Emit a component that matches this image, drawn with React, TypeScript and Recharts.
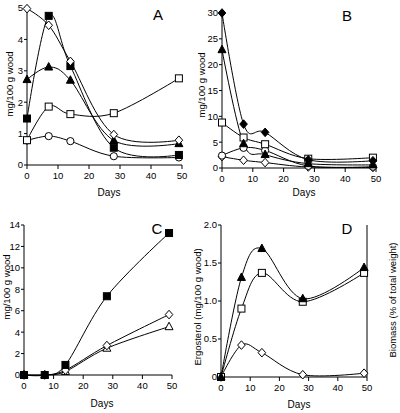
import React from "react";
import { LineChart, Line, XAxis, YAxis } from "recharts";

// sampling days (last harvest is day 49)
const days = [0, 7, 14, 28, 49];
const dayTicks = [0, 10, 20, 30, 40, 50];

// panel A
const aOpenDiamond = [4.98, 4.45, 3.3, 0.97, 0.79];
const aFilledSquare = [1.48, 4.75, 3.15, 0.55, 0.32];
const aFilledTriangle = [2.72, 3.12, 2.7, 0.78, 0.68];
const aOpenSquare = [0.79, 1.86, 1.62, 1.65, 2.76];
const aOpenCircle = [0.78, 0.92, 0.76, 0.28, 0.24];
const aTicks = [0, 1, 2, 3, 4, 5];

// panel B
const bFilledDiamond = [30, 8.5, 6.9, 1.6, 1.4];
const bFilledTriangle = [22.9, 4.7, 2.6, 0.84, 0.6];
const bOpenSquare = [8.8, 5.9, 4.6, 1.8, 2.0];
const bOpenCircle = [2.4, 3.9, 3.4, 0.4, 0.25];
const bOpenDiamond = [2.2, 1.5, 1.05, 0.2, 0.1];
const bTicks = [0, 5, 10, 15, 20, 25, 30];

// panel C
const cFilledSquare = [0, 0, 0.94, 7.35, 13.25];
const cOpenDiamond = [0, 0, 0.45, 2.75, 5.64];
const cOpenTriangle = [0, 0, 0.33, 2.5, 4.51];
const cTicks = [0, 2, 4, 6, 8, 10, 12, 14];

// panel D
const dFilledTriangle = [0, 1.31, 1.69, 1.03, 1.44];
const dOpenSquare = [0, 0.9, 1.37, 0.99, 1.37];
const dOpenDiamond = [0, 0.42, 0.32, 0.03, 0.05];
const dTicks = [0, 0.5, 1, 1.5, 2];
const dRightTicks = [0, 0.1, 0.2, 0.3, 0.4, 0.5];

type Shape = "square" | "diamond" | "circle" | "triangle";
interface SeriesDef {
  key: string;
  shape: Shape;
  filled: boolean;
  values: number[];
}

const font = "'Liberation Sans', Arial, sans-serif";
const tickStyle = { fontSize: 9.5, fill: "#000", fontFamily: font };

// Catmull-Rom style smoothing, similar to the spreadsheet "smoothed line"
class SmoothCurve {
  _context: any;
  _k = 1 / 6;
  _line = NaN;
  _point = 0;
  _x0 = NaN; _x1 = NaN; _x2 = NaN;
  _y0 = NaN; _y1 = NaN; _y2 = NaN;
  constructor(context: any) {
    this._context = context;
  }
  areaStart() { this._line = 0; }
  areaEnd() { this._line = NaN; }
  lineStart() {
    this._x0 = this._x1 = this._x2 = NaN;
    this._y0 = this._y1 = this._y2 = NaN;
    this._point = 0;
  }
  lineEnd() {
    if (this._point === 2) this._context.lineTo(this._x2, this._y2);
    else if (this._point === 3) this.seg(this._x1, this._y1);
    if (this._line || (this._line !== 0 && this._point === 1)) this._context.closePath();
    this._line = 1 - this._line;
  }
  seg(x: number, y: number) {
    this._context.bezierCurveTo(
      this._x1 + this._k * (this._x2 - this._x0),
      this._y1 + this._k * (this._y2 - this._y0),
      this._x2 + this._k * (this._x1 - x),
      this._y2 + this._k * (this._y1 - y),
      this._x2,
      this._y2
    );
  }
  point(x: number, y: number) {
    x = +x;
    y = +y;
    if (this._point === 0) {
      this._point = 1;
      if (this._line) this._context.lineTo(x, y);
      else this._context.moveTo(x, y);
    } else if (this._point === 1) {
      this._point = 2;
      this._x1 = x;
      this._y1 = y;
    } else {
      this._point = 3;
      this.seg(x, y);
    }
    this._x0 = this._x1; this._x1 = this._x2; this._x2 = x;
    this._y0 = this._y1; this._y1 = this._y2; this._y2 = y;
  }
}
const smooth = (context: any) => new SmoothCurve(context);

const Marker = ({ cx, cy, shape, filled }: { cx?: number; cy?: number; shape: Shape; filled: boolean }) => {
  if (cx == null || cy == null) return null;
  const p = { fill: filled ? "#000" : "#fff", stroke: "#000", strokeWidth: 1 };
  if (shape === "square") return <rect x={cx - 3.5} y={cy - 3.5} width={7} height={7} {...p} />;
  if (shape === "circle") return <circle cx={cx} cy={cy} r={3.6} {...p} />;
  if (shape === "diamond")
    return <polygon points={`${cx},${cy - 4.3} ${cx + 3.8},${cy} ${cx},${cy + 4.3} ${cx - 3.8},${cy}`} {...p} />;
  return <polygon points={`${cx},${cy - 4.5} ${cx + 4},${cy + 3} ${cx - 4},${cy + 3}`} {...p} />;
};

const toRows = (series: SeriesDef[]) =>
  days.map((day, i) => {
    const row: Record<string, number> = { day };
    series.forEach((s) => (row[s.key] = s.values[i]));
    return row;
  });

const VText = ({ x, y, children }: { x: number; y: number; children: string }) => (
  <text
    x={x}
    y={y}
    transform={`rotate(-90, ${x}, ${y})`}
    textAnchor="middle"
    dominantBaseline="central"
    fontSize={9.5}
    fontFamily={font}
    fill="#000"
  >
    {children}
  </text>
);

const HText = ({ x, y, size = 10, children }: { x: number; y: number; size?: number; children: string }) => (
  <text x={x} y={y} textAnchor="middle" dominantBaseline="central" fontSize={size} fontFamily={font} fill="#000">
    {children}
  </text>
);

interface PanelProps {
  left: number;
  top: number;
  width: number;
  height: number;
  margin: { top: number; right: number; bottom: number; left: number };
  yWidth: number;
  xHeight: number;
  yMax: number;
  yTicks: number[];
  yFormat?: (v: number) => string;
  series: SeriesDef[];
  children?: React.ReactNode;
  right?: React.ReactNode;
}

const Panel = ({ left, top, width, height, margin, yWidth, xHeight, yMax, yTicks, yFormat, series, children, right }: PanelProps) => (
  <div style={{ position: "absolute", left, top, width, height }}>
    <LineChart width={width} height={height} data={toRows(series)} margin={margin}>
      <XAxis
        dataKey="day"
        type="number"
        domain={[0, 50]}
        ticks={dayTicks}
        height={xHeight}
        tick={tickStyle}
        tickSize={4}
        tickMargin={3}
        stroke="#000"
        axisLine={{ stroke: "#000" }}
        tickLine={{ stroke: "#000" }}
      />
      <YAxis
        yAxisId="left"
        type="number"
        domain={[0, yMax]}
        ticks={yTicks}
        width={yWidth}
        tick={tickStyle}
        tickSize={3}
        tickMargin={1}
        tickFormatter={yFormat}
        stroke="#000"
        axisLine={{ stroke: "#000" }}
        tickLine={{ stroke: "#000" }}
      />
      {right}
      {series.map((s) => (
        <Line
          key={s.key}
          yAxisId="left"
          dataKey={s.key}
          type={smooth as any}
          stroke="#000"
          strokeWidth={1}
          isAnimationActive={false}
          dot={(p: any) => <Marker key={`${s.key}-${p.index}`} cx={p.cx} cy={p.cy} shape={s.shape} filled={s.filled} />}
        />
      ))}
      {children}
    </LineChart>
  </div>
);

const seriesA: SeriesDef[] = [
  { key: "oc", shape: "circle", filled: false, values: aOpenCircle },
  { key: "os", shape: "square", filled: false, values: aOpenSquare },
  { key: "ft", shape: "triangle", filled: true, values: aFilledTriangle },
  { key: "fs", shape: "square", filled: true, values: aFilledSquare },
  { key: "od", shape: "diamond", filled: false, values: aOpenDiamond },
];

const seriesB: SeriesDef[] = [
  { key: "od", shape: "diamond", filled: false, values: bOpenDiamond },
  { key: "oc", shape: "circle", filled: false, values: bOpenCircle },
  { key: "os", shape: "square", filled: false, values: bOpenSquare },
  { key: "ft", shape: "triangle", filled: true, values: bFilledTriangle },
  { key: "fd", shape: "diamond", filled: true, values: bFilledDiamond },
];

const seriesC: SeriesDef[] = [
  { key: "ot", shape: "triangle", filled: false, values: cOpenTriangle },
  { key: "od", shape: "diamond", filled: false, values: cOpenDiamond },
  { key: "fs", shape: "square", filled: true, values: cFilledSquare },
];

const seriesD: SeriesDef[] = [
  { key: "od", shape: "diamond", filled: false, values: dOpenDiamond },
  { key: "os", shape: "square", filled: false, values: dOpenSquare },
  { key: "ft", shape: "triangle", filled: true, values: dFilledTriangle },
];

const fmt1 = (v: number) => (v === 0 ? "0" : v.toFixed(1));

export default function App() {
  return (
    <div style={{ position: "absolute", left: 0, top: 0, width: 400, height: 413, background: "#fff", overflow: "hidden" }}>
      <Panel
        left={0}
        top={0}
        width={200}
        height={205}
        margin={{ top: 8, right: 18, bottom: 0, left: 0 }}
        yWidth={27}
        xHeight={40}
        yMax={5}
        yTicks={aTicks}
        series={seriesA}
      >
        <VText x={9} y={84}>mg/100 g wood</VText>
        <HText x={109} y={192}>Days</HText>
        <HText x={158} y={14} size={15}>A</HText>
      </Panel>
      <Panel
        left={192}
        top={0}
        width={208}
        height={205}
        margin={{ top: 13, right: 24, bottom: 0, left: 0 }}
        yWidth={30}
        xHeight={37}
        yMax={30}
        yTicks={bTicks}
        series={seriesB}
      >
        <VText x={9} y={85}>mg/100 g wood</VText>
        <HText x={112} y={192}>Days</HText>
        <HText x={155} y={15} size={15}>B</HText>
      </Panel>
      <Panel
        left={0}
        top={205}
        width={200}
        height={208}
        margin={{ top: 20, right: 28, bottom: 0, left: 0 }}
        yWidth={24}
        xHeight={38}
        yMax={14}
        yTicks={cTicks}
        series={seriesC}
      >
        <VText x={6} y={82}>mg/100 g wood</VText>
        <HText x={102} y={198}>Days</HText>
        <HText x={157} y={23} size={15}>C</HText>
      </Panel>
      <Panel
        left={188}
        top={205}
        width={212}
        height={208}
        margin={{ top: 20, right: 0, bottom: 0, left: 0 }}
        yWidth={33}
        xHeight={36}
        yMax={2}
        yTicks={dTicks}
        yFormat={fmt1}
        series={seriesD}
        right={
          <YAxis
            yAxisId="right"
            orientation="right"
            type="number"
            domain={[0, 0.5]}
            ticks={dRightTicks}
            width={33}
            tick={tickStyle}
            tickSize={3}
            tickMargin={1}
            tickFormatter={fmt1}
            stroke="#000"
            axisLine={{ stroke: "#000" }}
            tickLine={{ stroke: "#000" }}
          />
        }
      >
        <VText x={9} y={102}>Ergosterol (mg/100 g wood)</VText>
        <VText x={204} y={95}>Biomass (% of total weight)</VText>
        <HText x={111} y={199}>Days</HText>
        <HText x={159} y={23} size={15}>D</HText>
      </Panel>
    </div>
  );
}
